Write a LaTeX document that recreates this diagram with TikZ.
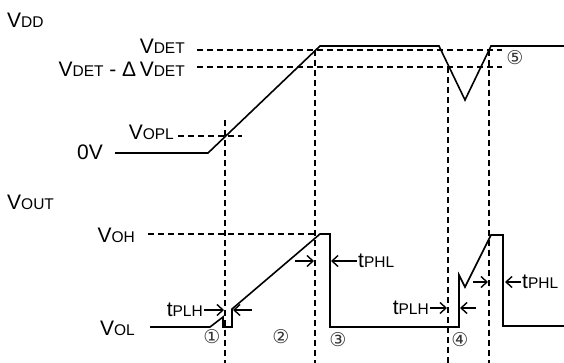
\documentclass[tikz,border=0pt]{standalone}
\usepackage{fontspec}
\setmainfont{Liberation Sans}
\newfontfamily\circfont{DejaVu Sans}
\usetikzlibrary{arrows.meta}
\newcommand{\bigsmall}[2]{{\fontsize{21}{23}\selectfont #1}{\fontsize{15.5}{17}\selectfont #2}}

\begin{document}
\begin{tikzpicture}[x=1pt,y=-1pt,
  wave/.style={line width=1.6pt},
  guide/.style={line width=1.6pt,dash pattern=on 6pt off 4pt},
  delay/.style={line width=1.4pt,-{Straight Barb[length=6pt,width=11pt]}},
  lbl/.style={inner sep=1pt},
  num/.style={font=\circfont\fontsize{19}{19}\selectfont,text=black!80,inner sep=0pt}]
\useasboundingbox (0,0) rectangle (564,363);
% Supply side labels
\node[lbl,anchor=base west] (vdd) at (6,28) {\bigsmall{V}{DD}};
\node[lbl,anchor=base east] (vdet) at (186,54) {\bigsmall{V}{DET}};
\node[lbl,anchor=base east] (vhys) at (186,77) {\bigsmall{V}{DET}{\fontsize{21}{23}\selectfont\ -\ Δ\,}\bigsmall{V}{DET}};
\node[lbl,anchor=base east] (vopl) at (175,140) {\bigsmall{V}{OPL}};
\node[lbl,anchor=base east] (zero) at (104,160) {\fontsize{21}{23}\selectfont 0V};
% Supply levels
\draw[guide] (197,50) -- (502,50);
\draw[guide] (197,67) -- (502,67);
\draw[guide] (178,136) -- (242,136);
% Supply waveform
\draw[wave] (115,153) -- (208,153) -- (320,46) -- (439,46) -- (465,100) -- (491,46) -- (564,46);
% Time marks
\draw[guide] (225,120) -- (225,363);
\draw[guide] (315,50) -- (315,363);
\draw[guide] (448,67) -- (448,363);
\draw[guide] (489,50) -- (489,363);
\node[num] (n5) at (515,58) {⑤};
% Output side labels
\node[lbl,anchor=base west] (vout) at (6,210) {\bigsmall{V}{OUT}};
\node[lbl,anchor=base east] (voh) at (136,242) {\bigsmall{V}{OH}};
\node[lbl,anchor=base east] (vol) at (136,335) {\bigsmall{V}{OL}};
\draw[guide] (148,234) -- (318,234);
% Output waveform
\draw[wave] (150,327) -- (210,327) -- (223,317) -- (223,327) -- (232,327) -- (232,309)
  -- (320,234) -- (330,234) -- (330,327) -- (459,327) -- (459,275) -- (465,287)
  -- (491,235) -- (503,235) -- (503,326) -- (564,326);
% Delays
\node[lbl,anchor=east] (tplha) at (204,310) {\bigsmall{t}{PLH}};
\draw[delay] (tplha.east) -- (224,310);
\draw[delay] (252,310) -- (233,310);
\node[lbl,anchor=west] (tphla) at (357,261) {\bigsmall{t}{PHL}};
\draw[delay] (tphla.west) -- (331,261);
\draw[delay] (295,261) -- (314,261);
\node[lbl,anchor=east] (tplhb) at (430,308) {\bigsmall{t}{PLH}};
\draw[delay] (tplhb.east) -- (447,308);
\draw[delay] (476,308) -- (460,308);
\node[lbl,anchor=west] (tphlb) at (521,282) {\bigsmall{t}{PHL}};
\draw[delay] (tphlb.west) -- (505,282);
\draw[delay] (473,282) -- (488,282);
% Phases
\node[num] (n1) at (212,337) {①};
\node[num] (n2) at (281,337) {②};
\node[num] (n3) at (338,340) {③};
\node[num] (n4) at (460,340) {④};
\end{tikzpicture}
\end{document}
